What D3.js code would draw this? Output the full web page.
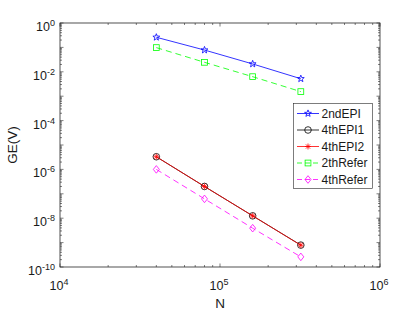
<!DOCTYPE html>
<html><head><meta charset="utf-8">
<script src="https://cdn.jsdelivr.net/npm/d3@7"></script>
<style>body{margin:0;background:#fff}svg{display:block}text{font-family:"Liberation Sans",Arial,Helvetica,sans-serif;fill:#1a1a1a}</style>
</head><body><svg id="c" width="419" height="314"></svg>
<script>
const N = [4e4, 8e4, 1.6e5, 3.2e5];
const ge2ndEPI = [0.26, 0.078, 0.021, 0.0052];
const ge4thEPI1 = [3.3e-6, 2.0e-7, 1.25e-8, 7.9e-10];
const ge4thEPI2 = [3.3e-6, 2.0e-7, 1.25e-8, 7.8e-10];
const ge2thRefer = [0.098, 0.0245, 0.0063, 0.00154];
const ge4thRefer = [1.0e-6, 6.2e-8, 3.9e-9, 2.6e-10];
const xTickExp = [4, 5, 6];
const yTickExp = [0, -2, -4, -6, -8, -10];
const seriesNames = ["2ndEPI", "4thEPI1", "4thEPI2", "2thRefer", "4thRefer"];

const series = [
  {name: seriesNames[0], values: ge2ndEPI, color: "#0000ff", dash: null, marker: "star"},
  {name: seriesNames[1], values: ge4thEPI1, color: "#000000", dash: null, marker: "circle"},
  {name: seriesNames[2], values: ge4thEPI2, color: "#ff0000", dash: null, marker: "asterisk"},
  {name: seriesNames[3], values: ge2thRefer, color: "#00ff00", dash: "6,4", marker: "square"},
  {name: seriesNames[4], values: ge4thRefer, color: "#ff00ff", dash: "6,4", marker: "diamond"}
];

const svg = d3.select("#c");
const L = 60, R = 380, T = 23, B = 267;
const x = d3.scaleLog().domain([1e4, 1e6]).range([L, R]);
const y = d3.scaleLog().domain([1e-10, 1]).range([B, T]);
const axisCol = "#262626";

const g = svg.append("g");
function minorVals(lo, hi) {
  const out = [];
  for (let e = lo; e < hi; e++) for (let m = 1; m < 10; m++) out.push(m * Math.pow(10, e));
  out.push(Math.pow(10, hi));
  return out;
}
minorVals(4, 6).forEach(v => {
  const isMajor = Math.abs(Math.log10(v) - Math.round(Math.log10(v))) < 1e-9;
  const len = isMajor ? 3.5 : 2;
  const px = x(v);
  g.append("line").attr("x1", px).attr("x2", px).attr("y1", B).attr("y2", B - len).attr("stroke", axisCol).attr("stroke-width", 0.6);
  g.append("line").attr("x1", px).attr("x2", px).attr("y1", T).attr("y2", T + len).attr("stroke", axisCol).attr("stroke-width", 0.6);
});
minorVals(-10, 0).forEach(v => {
  const isMajor = Math.abs(Math.log10(v) - Math.round(Math.log10(v))) < 1e-9;
  const len = isMajor ? 3.5 : 2;
  const py = y(v);
  g.append("line").attr("y1", py).attr("y2", py).attr("x1", L).attr("x2", L + len).attr("stroke", axisCol).attr("stroke-width", 0.6);
  g.append("line").attr("y1", py).attr("y2", py).attr("x1", R).attr("x2", R - len).attr("stroke", axisCol).attr("stroke-width", 0.6);
});
svg.append("rect").attr("x", L).attr("y", T).attr("width", R - L).attr("height", B - T)
  .attr("fill", "none").attr("stroke", axisCol).attr("stroke-width", 0.8);

xTickExp.forEach(e => {
  const t = svg.append("text").attr("x", x(Math.pow(10, e)) - 1).attr("y", 289.5)
    .attr("text-anchor", "middle").attr("font-size", 12.5);
  t.append("tspan").text("10");
  t.append("tspan").attr("dy", -5).attr("font-size", 9).text(String(e));
});
yTickExp.forEach(e => {
  const t = svg.append("text").attr("x", 55).attr("y", y(Math.pow(10, e)) + 8)
    .attr("text-anchor", "end").attr("font-size", 12.5);
  t.append("tspan").text("10");
  t.append("tspan").attr("dy", -5).attr("font-size", 9).text(String(e));
});

svg.append("text").attr("x", (L + R) / 2).attr("y", 308).attr("text-anchor", "middle").attr("font-size", 13.5).text("N");
svg.append("text").attr("transform", `translate(16.5,${(T + B) / 2}) rotate(-90)`).attr("text-anchor", "middle").attr("font-size", 13.5).text("GE(V)");

function drawMarker(sel, type, cx, cy, color) {
  if (type === "star") {
    const pts = [];
    for (let i = 0; i < 10; i++) {
      const r = i % 2 === 0 ? 3.6 : 1.5;
      const a = -Math.PI / 2 + i * Math.PI / 5;
      pts.push([cx + r * Math.cos(a), cy + r * Math.sin(a)]);
    }
    sel.append("polygon").attr("points", pts.map(p => p.join(",")).join(" "))
      .attr("fill", "none").attr("stroke", color).attr("stroke-width", 0.8);
  } else if (type === "circle") {
    sel.append("circle").attr("cx", cx).attr("cy", cy).attr("r", 3.3)
      .attr("fill", "none").attr("stroke", color).attr("stroke-width", 0.8);
  } else if (type === "asterisk") {
    const r = 3;
    for (let i = 0; i < 4; i++) {
      const a = i * Math.PI / 4;
      sel.append("line").attr("x1", cx - r * Math.cos(a)).attr("y1", cy - r * Math.sin(a))
        .attr("x2", cx + r * Math.cos(a)).attr("y2", cy + r * Math.sin(a))
        .attr("stroke", color).attr("stroke-width", 0.8);
    }
  } else if (type === "square") {
    sel.append("rect").attr("x", cx - 2.9).attr("y", cy - 2.9).attr("width", 5.8).attr("height", 5.8)
      .attr("fill", "none").attr("stroke", color).attr("stroke-width", 0.8);
  } else if (type === "diamond") {
    sel.append("polygon").attr("points", `${cx},${cy - 3.8} ${cx + 3},${cy} ${cx},${cy + 3.8} ${cx - 3},${cy}`)
      .attr("fill", "none").attr("stroke", color).attr("stroke-width", 0.8);
  }
}

const line = d3.line().x((d, i) => x(N[i])).y(d => y(d));
series.forEach(s => {
  const sg = svg.append("g");
  sg.append("path").attr("d", line(s.values)).attr("fill", "none").attr("stroke", s.color)
    .attr("stroke-width", 0.8).attr("stroke-dasharray", s.dash);
  s.values.forEach((v, i) => drawMarker(sg, s.marker, x(N[i]), y(v), s.color));
});

const lg = svg.append("g");
lg.append("rect").attr("x", 293.5).attr("y", 103.5).attr("width", 79).attr("height", 85)
  .attr("fill", "#fff").attr("stroke", "#262626").attr("stroke-width", 0.6);
series.forEach((s, i) => {
  const cy = 113.5 + i * 16.5;
  lg.append("line").attr("x1", 297).attr("x2", 319).attr("y1", cy).attr("y2", cy)
    .attr("stroke", s.color).attr("stroke-width", 0.8).attr("stroke-dasharray", s.dash ? "5,3" : null);
  drawMarker(lg, s.marker, 308, cy, s.color);
  lg.append("text").attr("x", 321.5).attr("y", cy + 4.3).attr("font-size", 12).text(s.name);
});
</script></body></html>
